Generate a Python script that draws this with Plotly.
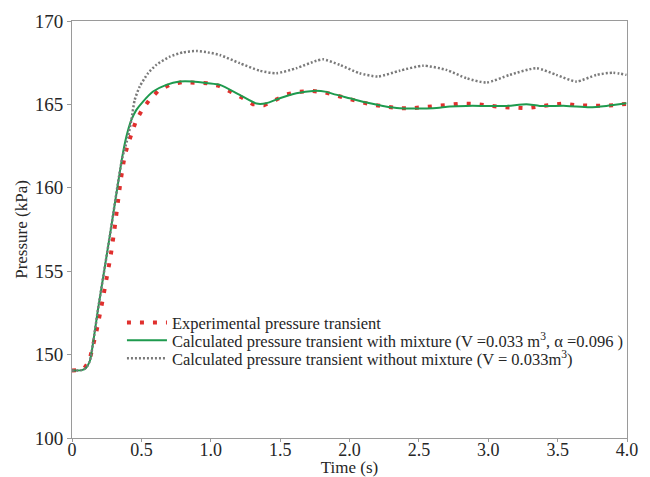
import plotly.graph_objects as go

# Time (s) and pressure (kPa) values
exp_t = [0.0, 0.05, 0.09, 0.11, 0.133, 0.156, 0.176, 0.212, 0.245, 0.277, 0.303, 0.324,
         0.349, 0.363, 0.378, 0.401, 0.430, 0.461, 0.502, 0.558, 0.623, 0.704, 0.791,
         0.882, 0.973, 1.06, 1.144, 1.225, 1.305, 1.384, 1.468, 1.55, 1.636, 1.733,
         1.821, 1.91, 2.0, 2.088, 2.177, 2.266, 2.355, 2.448, 2.54, 2.628, 2.722,
         2.811, 2.902, 2.994, 3.083, 3.176, 3.268, 3.359, 3.448, 3.539, 3.63, 3.722,
         3.813, 3.904, 3.996]
exp_p = [149.05, 149.07, 149.2, 149.45, 149.9, 150.62, 151.38, 152.89, 154.33, 155.83,
         157.32, 158.84, 160.34, 161.1, 161.84, 162.56, 163.29, 164.01, 164.63, 165.27,
         165.83, 166.17, 166.33, 166.33, 166.27, 166.11, 165.77, 165.41, 165.01, 164.95,
         165.27, 165.61, 165.75, 165.81, 165.72, 165.51, 165.33, 165.13, 164.97, 164.87,
         164.77, 164.77, 164.85, 164.95, 164.99, 165.05, 165.03, 164.93, 164.85, 164.81,
         164.77, 164.87, 164.95, 165.05, 164.95, 164.93, 164.91, 164.95, 165.03]

mix_t = [0.0, 0.07, 0.1, 0.128, 0.152, 0.187, 0.274, 0.36, 0.392, 0.428, 0.464, 0.512,
         0.584, 0.68, 0.776, 0.872, 0.98, 1.066, 1.209, 1.33, 1.40, 1.497, 1.617, 1.737,
         1.834, 1.881, 2.001, 2.122, 2.241, 2.362, 2.602, 2.722, 2.843, 2.987, 3.131,
         3.275, 3.371, 3.563, 3.731, 3.851, 3.996]
mix_p = [149.05, 149.07, 149.2, 149.6, 150.7, 152.69, 157.19, 161.75, 163.07, 164.07,
         164.67, 165.17, 165.77, 166.17, 166.37, 166.37, 166.27, 166.17, 165.57, 165.05,
         165.07, 165.37, 165.67, 165.81, 165.75, 165.63, 165.37, 165.11, 164.91, 164.77,
         164.77, 164.87, 164.91, 164.91, 164.91, 165.01, 164.91, 164.91, 164.83, 164.91,
         165.07]

nomix_t = [0.0, 0.07, 0.1, 0.128, 0.152, 0.187, 0.274, 0.36, 0.404, 0.428, 0.452, 0.488,
           0.548, 0.608, 0.704, 0.80, 0.897, 0.98, 1.066, 1.209, 1.353, 1.473, 1.617,
           1.762, 1.81, 1.93, 2.073, 2.205, 2.362, 2.53, 2.698, 2.843, 2.987, 3.155,
           3.347, 3.491, 3.635, 3.78, 3.899, 3.996]
nomix_p = [149.05, 149.07, 149.2, 149.6, 150.7, 152.69, 157.19, 161.7, 163.07, 164.07,
           165.27, 166.07, 166.87, 167.37, 167.86, 168.12, 168.2, 168.12, 167.96, 167.47,
           167.02, 166.87, 167.17, 167.62, 167.7, 167.37, 166.87, 166.67, 167.02, 167.32,
           167.07, 166.57, 166.31, 166.77, 167.17, 166.77, 166.37, 166.77, 166.9, 166.77]

x_tickvals = [0, 0.5, 1.0, 1.5, 2.0, 2.5, 3.0, 3.5, 4.0]
x_ticktext = ["0", "0.5", "1.0", "1.5", "2.0", "2.5", "3.0", "3.5", "4.0"]
y_tickvals = [145, 150, 155, 160, 165, 170]
y_ticktext = ["100", "150", "155", "160", "165", "170"]

names = [
    "Experimental pressure transient",
    "Calculated pressure transient with mixture (V =0.033 m<sup>3</sup>, \u03b1 =0.096 )",
    "Calculated pressure transient without mixture (V = 0.033m<sup>3</sup>)",
]

FONT = "Liberation Serif"
TXT = "#262626"
AX = "#9a9a9a"

fig = go.Figure()
fig.add_trace(go.Scatter(x=exp_t, y=exp_p, mode="lines", name=names[0], legend="legend",
                         line=dict(color="#e0302e", width=4, dash="4px,9px")))
fig.add_trace(go.Scatter(x=mix_t, y=mix_p, mode="lines", name=names[1], legend="legend2",
                         line=dict(color="#1e9a4e", width=2, shape="spline", smoothing=0.6)))
fig.add_trace(go.Scatter(x=nomix_t, y=nomix_p, mode="lines", name=names[2], legend="legend3",
                         line=dict(color="#7a7a7a", width=2.5, dash="2px,2px",
                                   shape="spline", smoothing=0.6)))

leg_common = dict(x=0.09, xanchor="left", yanchor="middle", bgcolor="rgba(0,0,0,0)",
                  font=dict(family=FONT, size=16.5, color=TXT), itemwidth=40)

# The page body adds an 8px offset; size the figure so the plot lands where the reference's does
fig.update_layout(
    width=642, height=469,
    margin=dict(l=64, r=23, t=13, b=38.5),
    paper_bgcolor="white", plot_bgcolor="white",
    font=dict(family=FONT, size=16, color=TXT),
    showlegend=True,
    legend=dict(y=0.2766, **leg_common),
    legend2=dict(y=0.2335, **leg_common),
    legend3=dict(y=0.1904, **leg_common),
)
fig.update_xaxes(
    range=[0, 4.0], tickvals=x_tickvals, ticktext=x_ticktext,
    showline=True, linecolor=AX, linewidth=1, mirror=True, automargin=False,
    ticks="outside", ticklen=3, tickcolor=AX, showgrid=False, zeroline=False,
    ticklabelstandoff=-8,
    tickfont=dict(family=FONT, size=18, color=TXT),
    title=dict(text="Time (s)", standoff=3, font=dict(family=FONT, size=17, color=TXT)),
)
fig.update_yaxes(
    range=[145, 170], tickvals=y_tickvals, ticktext=y_ticktext,
    showline=True, linecolor=AX, linewidth=1, mirror=True, automargin=False,
    ticks="outside", ticklen=4, tickcolor=AX, showgrid=False, zeroline=False,
    tickfont=dict(family=FONT, size=19, color=TXT),
    title=dict(text="Pressure (kPa)", standoff=2, font=dict(family=FONT, size=17, color=TXT)),
)

fig.write_html("out.html")
